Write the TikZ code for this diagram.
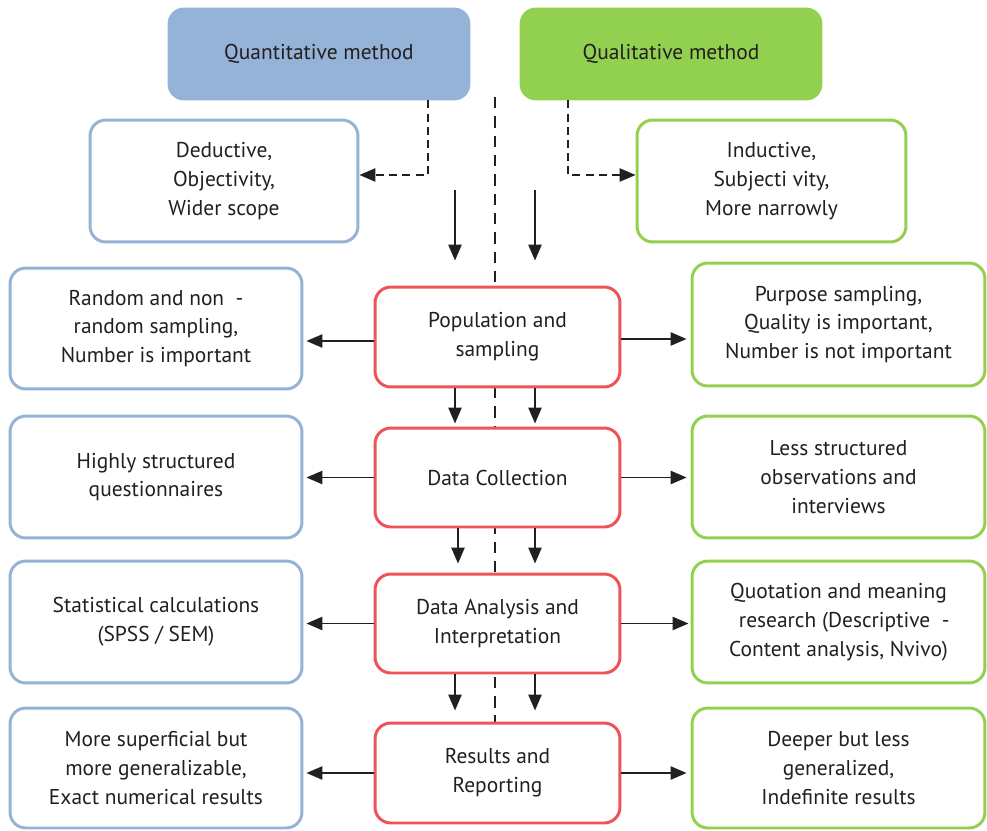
\documentclass[tikz,border=0pt]{standalone}
\usepackage{fontspec}
\setmainfont{PT Sans}
\usetikzlibrary{arrows.meta,calc}
\definecolor{qblue}{HTML}{95B3D7}
\definecolor{qgreen}{HTML}{92D050}
\definecolor{qred}{HTML}{EF5358}
\definecolor{txt}{HTML}{231F20}
\tikzset{
  base/.style={rounded corners=9pt, line width=1.7pt, align=center, text=txt,
    font=\fontsize{12.2}{16.4}\selectfont, inner sep=0pt, fill=white},
  headq/.style={base, draw=qblue, fill=qblue, line width=0.5pt},
  headl/.style={base, draw=qgreen, fill=qgreen, line width=0.5pt},
  bluebox/.style={base, draw=qblue},
  greenbox/.style={base, draw=qgreen},
  redbox/.style={base, draw=qred},
  arr/.style={draw=txt, line width=0.9pt, -{Triangle[length=9pt,width=7.5pt]}},
  darr/.style={draw=txt, line width=0.9pt, dash pattern=on 4.5pt off 3pt, -{Triangle[length=9pt,width=7.5pt]}},
  midline/.style={draw=txt, line width=1.1pt, dash pattern=on 6.5pt off 4.5pt},
}
\begin{document}
\begin{tikzpicture}[x=0.02cm,y=-0.02cm]
\useasboundingbox (0,0) rectangle (987,831);
% central dashed divider
\coordinate (cd1) at (495,97);
\coordinate (cd2) at (495,722);
\draw[midline] (cd1) -- (cd2);
% headers
\node[headq, minimum width=6.04cm, minimum height=1.84cm] (quant) at (319,54) {Quantitative method};
\node[headl, minimum width=6.04cm, minimum height=1.84cm] (qual) at (671,54) {Qualitative method};
% second row
\node[bluebox, minimum width=5.36cm, minimum height=2.44cm] (ded) at (224,181) {Deductive,\\Objectivity,\\Wider scope};
\node[greenbox, minimum width=5.38cm, minimum height=2.44cm] (ind) at (771.5,181) {Inductive,\\Subjecti vity,\\More narrowly};
% center
\node[redbox, minimum width=4.9cm, minimum height=2.0cm] (pop) at (497.5,337) {Population and\\sampling};
\node[redbox, minimum width=4.9cm, minimum height=1.98cm] (dc) at (497.5,477.5) {Data Collection};
\node[redbox, minimum width=4.9cm, minimum height=1.98cm] (da) at (497.5,623.5) {Data Analysis and\\Interpretation};
\node[redbox, minimum width=4.9cm, minimum height=2.0cm] (rr) at (497.5,773) {Results and\\Reporting};
% left
\node[bluebox, minimum width=5.84cm, minimum height=2.42cm] (l1) at (156,328.5) {Random and non\ \ -\\random sampling,\\Number is important};
\node[bluebox, minimum width=5.84cm, minimum height=2.44cm] (l2) at (156,477) {Highly structured\\questionnaires};
\node[bluebox, minimum width=5.84cm, minimum height=2.44cm] (l3) at (156,622) {Statistical calculations\\(SPSS / SEM)};
\node[bluebox, minimum width=5.84cm, minimum height=2.40cm] (l4) at (156,768) {More superficial but\\more generalizable,\\Exact numerical results};
% right
\node[greenbox, minimum width=5.86cm, minimum height=2.46cm] (r1) at (838.5,324.5) {Purpose sampling,\\Quality is important,\\Number is not important};
\node[greenbox, minimum width=5.86cm, minimum height=2.44cm] (r2) at (838.5,477) {Less structured\\observations and\\interviews};
\node[greenbox, minimum width=5.86cm, minimum height=2.44cm] (r3) at (838.5,622) {Quotation and meaning\\\ \ research (Descriptive\ \ -\\Content analysis, Nvivo)};
\node[greenbox, minimum width=5.86cm, minimum height=2.40cm] (r4) at (838.5,768) {Deeper but less\\generalized,\\Indefinite results};
% dashed header arrows
\coordinate (qd) at (428,0);
\coordinate (ld) at (568,0);
\draw[darr] (quant.south -| qd) |- ([yshift=0.12cm]ded.east);
\draw[darr] (qual.south -| ld) |- ([yshift=0.12cm]ind.west);
% vertical arrows
\coordinate (la) at (455,190);
\coordinate (ra) at (535,190);
\draw[arr, shorten >=0.5cm] (la) -- (la |- pop.north);
\draw[arr, shorten >=0.5cm] (ra) -- (ra |- pop.north);
\draw[arr, shorten >=0.06cm] (pop.south -| la) -- (dc.north -| la);
\draw[arr, shorten >=0.06cm] (pop.south -| ra) -- (dc.north -| ra);
\coordinate (la2) at (458,0);
\draw[arr, shorten >=0.18cm] (dc.south -| la2) -- (da.north -| la2);
\draw[arr, shorten >=0.18cm] (dc.south -| ra) -- (da.north -| ra);
\draw[arr, shorten >=0.22cm] (da.south -| la) -- (rr.north -| la);
\draw[arr, shorten >=0.22cm] (da.south -| ra) -- (rr.north -| ra);
% horizontal arrows
\draw[arr, shorten >=0.06cm] ([yshift=-0.08cm]pop.west) -- ([yshift=-0.08cm]pop.west -| l1.east);
\draw[arr, shorten >=0.06cm] (dc.west) -- (dc.west -| l2.east);
\draw[arr, shorten >=0.06cm] (da.west) -- (da.west -| l3.east);
\draw[arr, shorten >=0.06cm] (rr.west) -- (rr.west -| l4.east);
\draw[arr, shorten >=0.08cm] ([yshift=-0.04cm]pop.east) -- ([yshift=-0.04cm]pop.east -| r1.west);
\draw[arr, shorten >=0.08cm] (dc.east) -- (dc.east -| r2.west);
\draw[arr, shorten >=0.04cm] (da.east) -- (da.east -| r3.west);
\draw[arr, shorten >=0.08cm] (rr.east) -- (rr.east -| r4.west);
\end{tikzpicture}
\end{document}
